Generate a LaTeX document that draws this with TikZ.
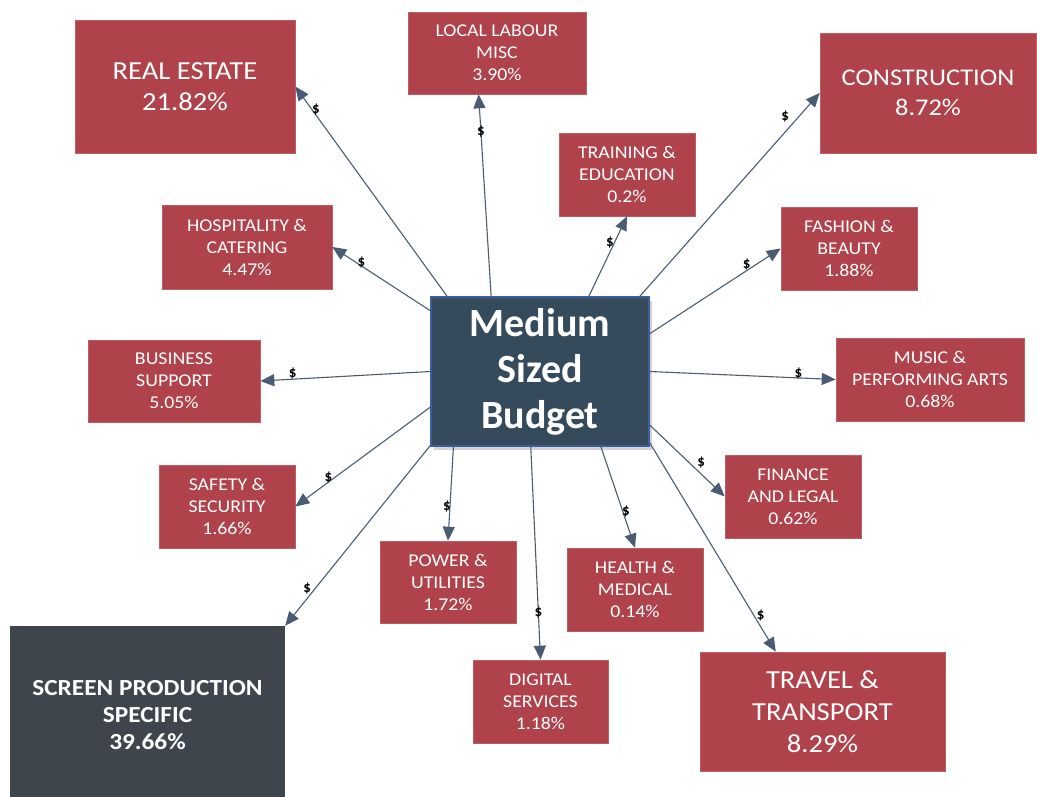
\documentclass[tikz,border=0pt]{standalone}
\usepackage{fontspec}
\setmainfont{Carlito}[FakeStretch=1.1]
\newfontfamily\hubfont{Carlito}
\usetikzlibrary{arrows.meta,shadows}

\definecolor{boxred}{HTML}{AF424A}
\definecolor{hubfill}{HTML}{354B5C}
\definecolor{hubedge}{HTML}{3D5E9E}
\definecolor{screenfill}{HTML}{3E454D}
\definecolor{flowline}{HTML}{4A5C74}

\tikzset{
  wh/.style 2 args={minimum width=#1pt, minimum height=#2pt},
  sector/.style={fill=boxred, draw=boxred!85!white, line width=0.6pt, text=white,
    align=center, inner sep=0pt, font=\fontsize{18}{22}\selectfont},
  bigsector/.style={sector, font=\fontsize{26}{31}\selectfont},
  hub/.style={fill=hubfill, draw=hubedge, line width=1.5pt, text=white, align=center,
    inner sep=0pt, font=\hubfont\bfseries\fontsize{40}{46}\selectfont,
    drop shadow={shadow xshift=3pt, shadow yshift=-4pt, opacity=0.35}},
  screenbox/.style={fill=screenfill, text=white, align=center, inner sep=0pt,
    font=\bfseries\fontsize{23}{27}\selectfont},
  flow/.style={draw=flowline, line width=1.1pt, -{Triangle[length=14pt,width=12pt]}},
  dollar/.style={font=\hubfont\bfseries\fontsize{15}{15}\selectfont, text=black, inner sep=0pt},
}

\begin{document}
\begin{tikzpicture}[x=1pt, y=-1pt]
  \clip (0,0) rectangle (1037,796);
  \fill[white] (0,0) rectangle (1037,796);

  % central budget box
  \node[hub, wh={218}{149}] (hub) at (540,371.5) {Medium\\Sized\\Budget};

  % spending sectors
  \node[bigsector, wh={220}{133}] (re) at (185,86.5) {REAL ESTATE\\21.82\%};
  \node[sector, wh={178}{82}] (ll) at (497,53) {LOCAL LABOUR\\MISC\\3.90\%};
  \node[bigsector, wh={216}{120}, font=\fontsize{24}{30}\selectfont] (cons) at (928,93) {CONSTRUCTION\\8.72\%};
  \node[sector, wh={136}{83}] (tr) at (627,174.5) {TRAINING \&\\EDUCATION\\0.2\%};
  \node[sector, wh={170}{84}] (ho) at (247,247) {HOSPITALITY \&\\CATERING\\4.47\%};
  \node[sector, wh={136}{83}] (fa) at (849,248.5) {FASHION \&\\BEAUTY\\1.88\%};
  \node[sector, wh={172}{82}] (bs) at (174,381) {BUSINESS\\SUPPORT\\5.05\%};
  \node[sector, wh={188}{83}] (mu) at (930,379.5) {MUSIC \&\\PERFORMING ARTS\\0.68\%};
  \node[sector, wh={136}{83}] (sa) at (227,506.5) {SAFETY \&\\SECURITY\\1.66\%};
  \node[sector, wh={136}{83}] (fi) at (793,496.5) {FINANCE\\AND LEGAL\\0.62\%};
  \node[sector, wh={136}{82}] (pw) at (448,582) {POWER \&\\UTILITIES\\1.72\%};
  \node[sector, wh={136}{83}] (he) at (635,589.5) {HEALTH \&\\MEDICAL\\0.14\%};
  \node[sector, wh={135}{83}] (di) at (540.5,701.5) {DIGITAL\\SERVICES\\1.18\%};
  \node[sector, wh={245}{119}, font=\fontsize{26}{32}\selectfont] (tt) at (822.5,711.5) {TRAVEL \&\\TRANSPORT\\8.29\%};
  \node[screenbox, wh={275}{178}] (sc) at (147.5,715) {SCREEN PRODUCTION\\SPECIFIC\\39.66\%};

  % money flows out of the budget
  \draw[flow] (hub.141.3) -- node[dollar, pos=0.88, xshift=2.5pt, yshift=1.7pt] {\$} (re.east);
  \draw[flow] (hub.123.9) -- node[dollar, pos=0.815] {\$} (ll.246.6);
  \draw[flow] (hub.37.8) -- node[dollar, pos=0.85, xshift=-7.6pt, yshift=6.7pt] {\$} (cons.west);
  \draw[flow] (hub.57.8) -- node[dollar, pos=0.65, xshift=-3.7pt, yshift=1.7pt] {\$} (tr.south);
  \draw[flow] (hub.151.8) -- node[dollar, pos=0.72, xshift=1.7pt, yshift=2.6pt] {\$} (ho.east);
  \draw[flow] (hub.19.5) -- node[dollar, pos=0.76, xshift=-2.5pt, yshift=4.2pt] {\$} (fa.west);
  \draw[flow] (hub.180.3) -- node[dollar, pos=0.81, yshift=6pt] {\$} (bs.east);
  \draw[flow] (hub.0.3) -- node[dollar, pos=0.80, yshift=4pt] {\$} (mu.west);
  \draw[flow] (hub.198.5) -- node[dollar, pos=0.74, xshift=-2pt, yshift=3pt] {\$} (sa.east);
  \draw[flow] (hub.334.7) -- node[dollar, pos=0.61, xshift=5.7pt, yshift=5.7pt] {\$} (fi.west);
  \draw[flow] (hub.221.6) -- node[dollar, pos=0.64, xshift=-3pt] {\$} (pw.north);
  \draw[flow] (hub.309.8) -- node[dollar, pos=0.65, xshift=2.8pt, yshift=0.9pt] {\$} (he.north);
  \draw[flow] (hub.214.4) -- node[dollar, pos=0.815, xshift=-4.8pt, yshift=4pt] {\$} (sc.north east);
  \draw[flow] (hub.263.1) -- node[dollar, pos=0.776] {\$} (di.north);
  \draw[flow] (hub.327) -- node[dollar, pos=0.844, xshift=4.5pt, yshift=3.9pt] {\$} (tt.128.6);
\end{tikzpicture}
\end{document}
